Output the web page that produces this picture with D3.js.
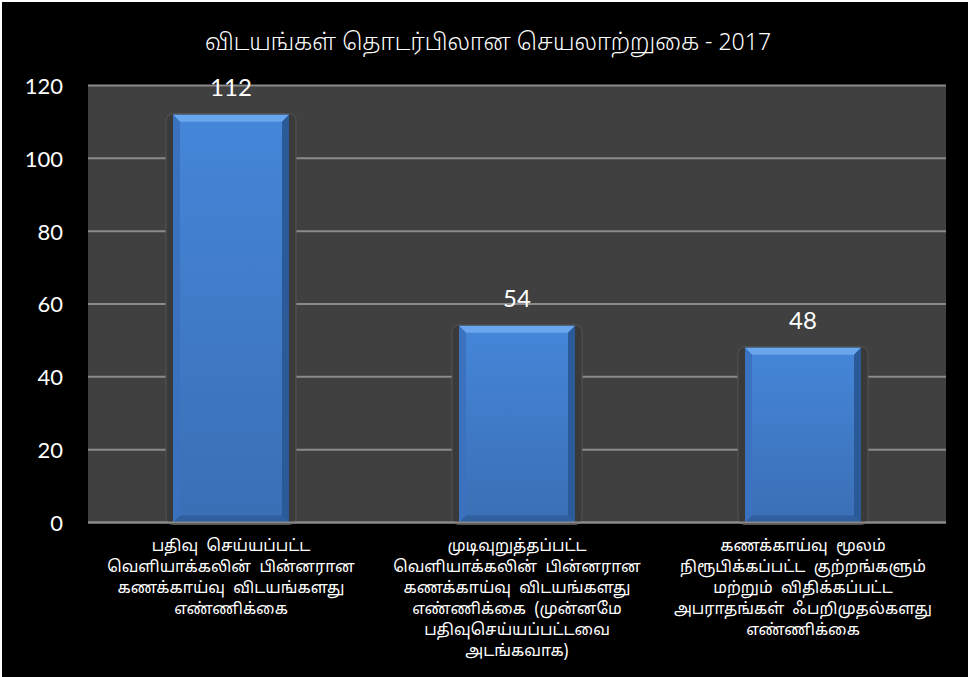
<!DOCTYPE html>
<html lang="ta">
<head>
<meta charset="UTF-8">
<title>விடயங்கள் தொடர்பிலான செயலாற்றுகை - 2017</title>
<script src="https://d3js.org/d3.v7.min.js"></script>
<style>
  html, body { margin: 0; padding: 0; background: #fff; }
  svg { display: block; }
  .tamil { font-family: "Noto Sans Tamil", "Latha", "Noto Serif Tamil", serif; fill: #fff; }
  .num { font-family: Lato, "Open Sans", sans-serif; fill: #fff; }
</style>
</head>
<body>
<svg id="chart"></svg>
<script>
// data
const title = "விடயங்கள் தொடர்பிலான செயலாற்றுகை - 2017";
const categories = [
  ["பதிவு  செய்யப்பட்ட", "வெளியாக்கலின்  பின்னரான", "கணக்காய்வு  விடயங்களது", "எண்ணிக்கை"],
  ["முடிவுறுத்தப்பட்ட", "வெளியாக்கலின்  பின்னரான", "கணக்காய்வு  விடயங்களது", "எண்ணிக்கை  (முன்னமே", "பதிவுசெய்யப்பட்டவை", "அடங்கவாக)"],
  ["கணக்காய்வு  மூலம்", "நிரூபிக்கப்பட்ட  குற்றங்களும்", "மற்றும்  விதிக்கப்பட்ட", "அபராதங்கள்  ஃபறிமுதல்களது", "எண்ணிக்கை"]
];
const values = [112, 54, 48];
const yTicks = [0, 20, 40, 60, 80, 100, 120];

const width = 968, height = 677;
const plot = { left: 88, right: 946, top: 85.5, bottom: 522.5 };

const svg = d3.select("#chart").attr("width", width).attr("height", height);

const defs = svg.append("defs");
const g1 = defs.append("linearGradient").attr("id", "barFill").attr("x1", 0).attr("y1", 0).attr("x2", 0).attr("y2", 1);
g1.append("stop").attr("offset", 0).attr("stop-color", "#4586d9");
g1.append("stop").attr("offset", 1).attr("stop-color", "#3a6fb5");

// background
svg.append("rect").attr("x", 2).attr("y", 2).attr("width", width - 2).attr("height", height - 2).attr("fill", "#000");

svg.append("text").attr("class", "tamil")
  .attr("x", 488).attr("y", 50)
  .attr("text-anchor", "middle")
  .attr("font-size", 23)
  .attr("font-weight", 300)
  .text(title);

const x = d3.scaleBand().domain(d3.range(values.length)).range([plot.left, plot.right]).padding(0);
const y = d3.scaleLinear().domain([0, 120]).range([plot.bottom, plot.top]);

svg.append("rect")
  .attr("x", plot.left).attr("y", plot.top)
  .attr("width", plot.right - plot.left).attr("height", plot.bottom - plot.top)
  .attr("fill", "#404040");

// gridlines
svg.append("g")
  .selectAll("line")
  .data(yTicks)
  .join("line")
  .attr("x1", plot.left).attr("x2", plot.right)
  .attr("y1", d => y(d)).attr("y2", d => y(d))
  .attr("stroke", "#8a8a8a").attr("stroke-width", 2);

// y axis labels
const yAxis = d3.axisLeft(y).tickValues(yTicks).tickSize(0).tickPadding(0);
const ya = svg.append("g").attr("transform", `translate(63,0)`).call(yAxis);
ya.select(".domain").remove();
ya.selectAll("text").attr("class", "num").attr("font-size", 22).attr("fill", "#fff")
  .attr("dy", "0.36em");

// bars
const bw = 116;
const bev = 7;
const bars = svg.append("g").selectAll("g").data(values).join("g");

bars.each(function(v, i) {
  const g = d3.select(this);
  const cx = x(i) + x.bandwidth() / 2;
  const x0 = cx - bw / 2, x1 = cx + bw / 2;
  const y0 = y(v), y1 = y(0);

  // shadow
  g.append("rect")
    .attr("x", x0 - 7).attr("y", y0 - 1)
    .attr("width", bw + 14).attr("height", y1 - y0 + 3)
    .attr("rx", 7)
    .attr("fill", "#3a3a3a").attr("stroke", "#555").attr("stroke-width", 1);

  g.append("rect")
    .attr("x", x0).attr("y", y0)
    .attr("width", bw).attr("height", y1 - y0)
    .attr("fill", "url(#barFill)");

  // bevels
  g.append("polygon")
    .attr("points", [[x0, y0], [x1, y0], [x1 - bev, y0 + bev], [x0 + bev, y0 + bev]].join(" "))
    .attr("fill", "#6aa6ee");
  g.append("polygon")
    .attr("points", [[x0, y0], [x0 + bev, y0 + bev], [x0 + bev, y1 - bev], [x0, y1]].join(" "))
    .attr("fill", "#3a72c0");
  g.append("polygon")
    .attr("points", [[x1, y0], [x1 - bev, y0 + bev], [x1 - bev, y1 - bev], [x1, y1]].join(" "))
    .attr("fill", "#2b5a98");
  g.append("polygon")
    .attr("points", [[x0, y1], [x0 + bev, y1 - bev], [x1 - bev, y1 - bev], [x1, y1]].join(" "))
    .attr("fill", "#2f5f9f");

  g.append("text").attr("class", "num")
    .attr("x", cx).attr("y", y0 - 19)
    .attr("text-anchor", "middle")
    .attr("font-size", 24)
    .text(v);
});

// bottom axis line
svg.append("line")
  .attr("x1", plot.left).attr("x2", plot.right)
  .attr("y1", y(0)).attr("y2", y(0))
  .attr("stroke", "#8a8a8a").attr("stroke-width", 2);

// category labels
categories.forEach((lines, i) => {
  const cx = x(i) + x.bandwidth() / 2;
  const t = svg.append("text").attr("class", "tamil")
    .attr("text-anchor", "middle")
    .attr("font-size", 16)
    .attr("xml:space", "preserve")
    .style("white-space", "pre");
  lines.forEach((ln, k) => {
    t.append("tspan").attr("x", cx).attr("y", 551 + k * 21).text(ln);
  });
});
</script>
</body>
</html>
